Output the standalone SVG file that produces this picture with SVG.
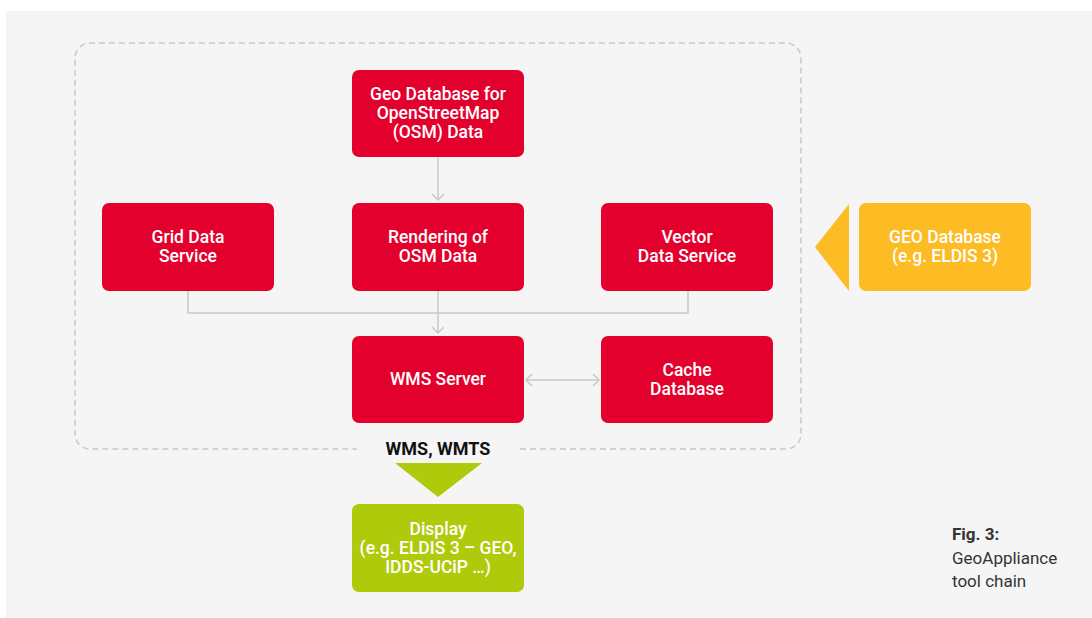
<svg xmlns="http://www.w3.org/2000/svg" width="1092" height="618" viewBox="0 0 1092 618">
<defs>
<style>
.bg{fill:#f5f5f5}
.red{fill:#e4002d}
.yel{fill:#fdbb24}
.grn{fill:#afca0b}
.t{font-family:Roboto,"Liberation Sans",sans-serif;font-size:17.5px;font-weight:500;fill:#ffffff;text-anchor:middle}
.c{fill:none;stroke:#c8c8c8;stroke-width:1.5}
.dash{fill:none;stroke:#c8c8c8;stroke-width:1.5;stroke-dasharray:6 4}
.lbl{font-family:Roboto,"Liberation Sans",sans-serif;font-size:18px;font-weight:700;fill:#111111;text-anchor:middle}
.cap{font-family:Roboto,"Liberation Sans",sans-serif;font-size:17px;fill:#333333}
</style>
<marker id="ah" viewBox="0 0 12 12" refX="10" refY="6" markerWidth="12" markerHeight="12" markerUnits="userSpaceOnUse" orient="auto-start-reverse">
<path d="M4,0 L10,6 L4,12" fill="none" stroke="#c8c8c8" stroke-width="1.5"/>
</marker>
</defs>
<rect class="bg" x="6" y="11" width="1086" height="607"/>
<path class="dash" d="M520,449 H786 A15,15 0 0 0 801,434 V58 A15,15 0 0 0 786,43 H90 A15,15 0 0 0 75,58 V434 A15,15 0 0 0 90,449 H357"/>
<g id="connectors">
<path class="c" d="M438,157 V200" marker-end="url(#ah)"/>
<path class="c" d="M188,291 V313 H688 V291"/>
<path class="c" d="M438,291 V333" marker-end="url(#ah)"/>
<path class="c" d="M526,380 H599" marker-start="url(#ah)" marker-end="url(#ah)"/>
</g>
<g id="geo-osm">
<rect class="red" x="352" y="70" width="172" height="87" rx="7"/>
<text class="t" x="438" y="100">Geo Database for</text>
<text class="t" x="438" y="119">OpenStreetMap</text>
<text class="t" x="438" y="138">(OSM) Data</text>
</g>
<g id="grid">
<rect class="red" x="102" y="203" width="172" height="88" rx="7"/>
<text class="t" x="188" y="243">Grid Data</text>
<text class="t" x="188" y="262">Service</text>
</g>
<g id="rendering">
<rect class="red" x="352" y="203" width="172" height="88" rx="7"/>
<text class="t" x="438" y="243">Rendering of</text>
<text class="t" x="438" y="262">OSM Data</text>
</g>
<g id="vector">
<rect class="red" x="601" y="203" width="172" height="88" rx="7"/>
<text class="t" x="687" y="243">Vector</text>
<text class="t" x="687" y="262">Data Service</text>
</g>
<g id="wms">
<rect class="red" x="352" y="336" width="172" height="87" rx="7"/>
<text class="t" x="438" y="385">WMS Server</text>
</g>
<g id="cache">
<rect class="red" x="601" y="336" width="172" height="87" rx="7"/>
<text class="t" x="687" y="376">Cache</text>
<text class="t" x="687" y="395">Database</text>
</g>
<g id="geo-eldis">
<polygon class="yel" points="815,247 849,204 849,291"/>
<rect class="yel" x="859" y="203" width="172" height="88" rx="7"/>
<text class="t" x="945" y="243">GEO Database</text>
<text class="t" x="945" y="262">(e.g. ELDIS 3)</text>
</g>
<g id="wms-wmts">
<text class="lbl" x="438" y="455">WMS, WMTS</text>
<polygon class="grn" points="395,463 482,463 438,497"/>
</g>
<g id="display">
<rect class="grn" x="352" y="504" width="172" height="88" rx="7"/>
<text class="t" x="438" y="535">Display</text>
<text class="t" x="438" y="554">(e.g. ELDIS 3 – GEO,</text>
<text class="t" x="438" y="573">IDDS-UCiP …)</text>
</g>
<g id="caption">
<text class="cap" x="952" y="540" font-weight="700" fill="#222">Fig. 3:</text>
<text class="cap" x="952" y="564">GeoAppliance</text>
<text class="cap" x="952" y="587">tool chain</text>
</g>
</svg>
